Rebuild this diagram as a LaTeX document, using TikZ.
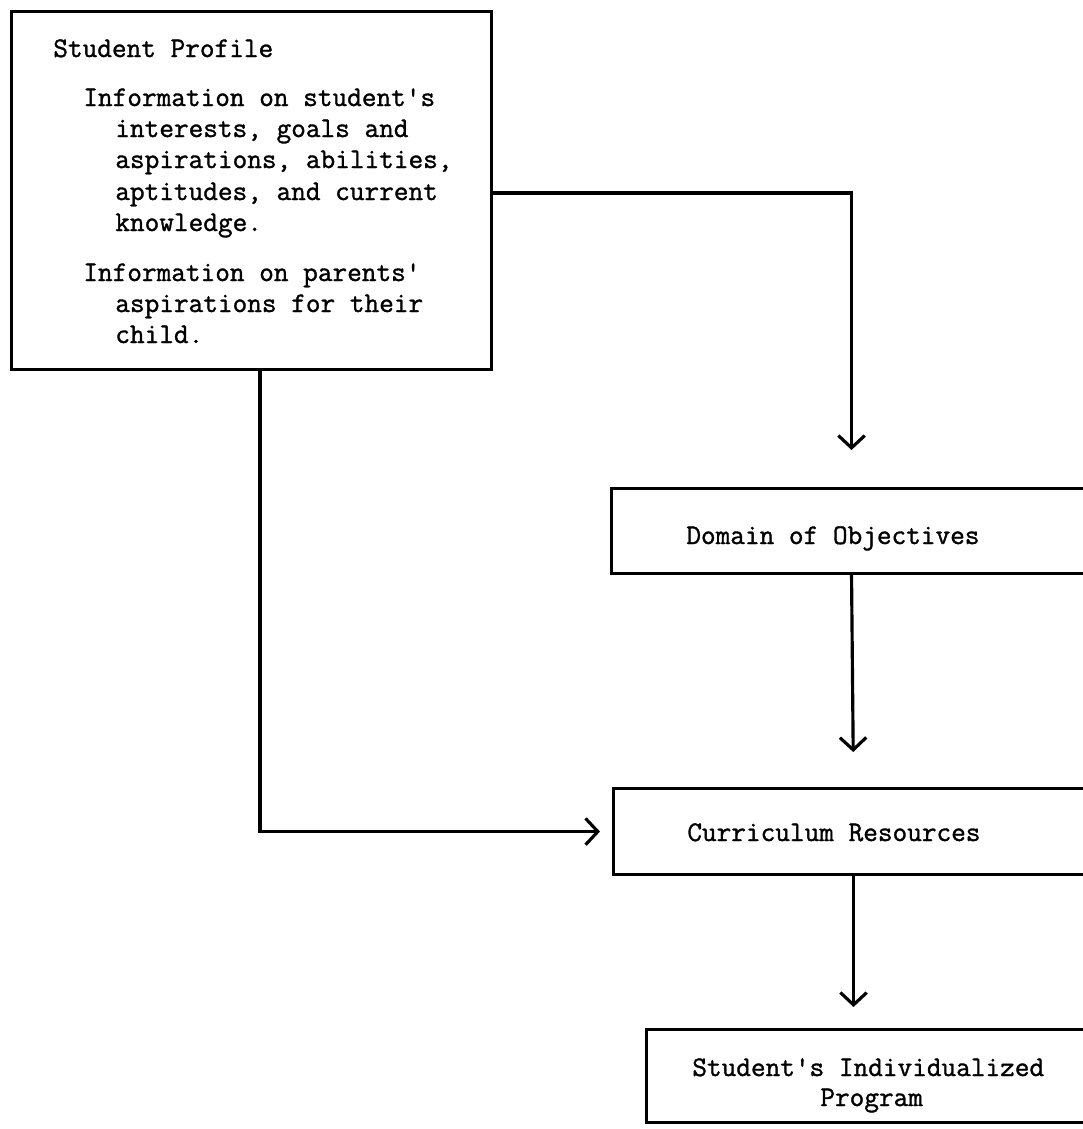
\documentclass[tikz,border=0pt]{standalone}
\usepackage{fontspec}
\newfontfamily\typewriter{Latin Modern Mono}[FakeBold=1.2]
\usetikzlibrary{arrows.meta}
\tikzset{
  box/.style={draw, line width=1.8pt, rectangle, inner sep=0pt},
  conn/.style={line width=1.8pt, -{Straight Barb[length=7pt,width=15pt,line width=1.8pt]}},
  txt/.style={font=\typewriter\fontsize{16.2pt}{17.6pt}\selectfont, inner sep=0pt, anchor=base west},
}
\begin{document}
\begin{tikzpicture}[x=0.02cm,y=-0.02cm]
      \useasboundingbox (0,0) rectangle (1082,1129);
      \node[box, minimum width=9.6cm, minimum height=7.16cm, anchor=north west] (profile) at (10,10) {};
      \node[box, minimum width=9.6cm, minimum height=1.7cm, anchor=north west] (domain) at (610,487) {};
      \node[box, minimum width=9.6cm, minimum height=1.72cm, anchor=north west] (resources) at (612,787) {};
      \node[box, minimum width=9.2cm, minimum height=1.86cm, anchor=north west] (program) at (645,1028) {};
      % text of the profile box
      \node[txt] (title) at (53,57) {Student Profile};
      \node[txt] (stud1) at (83,106) {Information on student's};
      \node[txt] (stud2) at (115,137) {interests, goals and};
      \node[txt] (stud3) at (115,168) {aspirations, abilities,};
      \node[txt] (stud4) at (115,200) {aptitudes, and current};
      \node[txt] (stud5) at (115,231) {knowledge.};
      \node[txt] (par1) at (83,281) {Information on parents'};
      \node[txt] (par2) at (115,312) {aspirations for their};
      \node[txt] (par3) at (115,343) {child.};
      \node[txt] (domtext) at (686,544) {Domain of Objectives};
      \node[txt] (restext) at (687,841) {Curriculum Resources};
      \node[txt] (progtext1) at (692,1076) {Student's Individualized};
      \node[txt] (progtext2) at (820,1106) {Program};
      % connectors
      \path (profile.north east) ++(0,183) coordinate (tap);
      \path (profile.south west) ++(250,0) coordinate (drop);
      \draw[conn, shorten >=0.74cm] (tap) -| (domain.north);
      \draw[conn, shorten >=0.7cm] (domain.south) -- (resources.north);
      \draw[conn, shorten >=0.24cm] (drop) |- (resources.west);
      \draw[conn, shorten >=0.42cm] (resources.south) -- (resources.south |- program.north);
    \end{tikzpicture}
\end{document}
